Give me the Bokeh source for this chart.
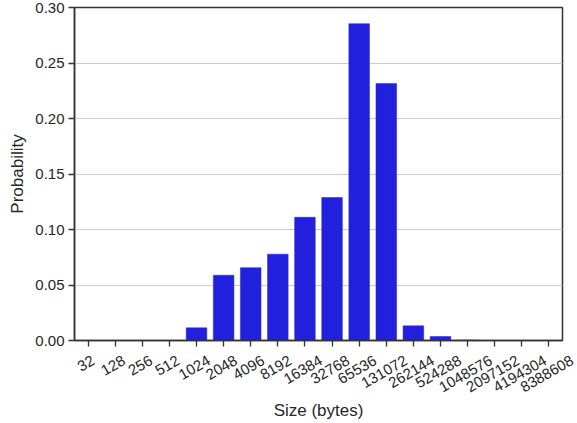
import math
from bokeh.plotting import figure
from bokeh.layouts import column
from bokeh.models import (ColumnDataSource, FixedTicker, NumeralTickFormatter,
                          FactorRange, Range1d, Plot)
from bokeh.core.properties import value
from bokeh.embed import file_html
from bokeh.resources import INLINE

sizes = ["32", "128", "256", "512", "1024", "2048", "4096", "8192", "16384",
         "32768", "65536", "131072", "262144", "524288", "1048576",
         "2097152", "4194304", "8388608"]
probability = [0.0, 0.0, 0.0, 0.0, 0.0114, 0.0588, 0.0656, 0.0778, 0.111,
               0.1288, 0.2854, 0.2316, 0.0132, 0.0036, 0.0003, 0.0, 0.0, 0.0]
y_ticks = [0.0, 0.05, 0.10, 0.15, 0.20, 0.25, 0.30]
x_title = "Size (bytes)"
y_title = "Probability"

FONT = "Liberation Sans"
TXT = "#262626"
LABEL_PX = 15
ANGLE = math.pi / 6

W, H = 577, 423
LEFT, RIGHT, TOP = 74, 15, 7
MAIN_H = 348          # main figure height (frame bottom at 340)
STRIP_H = H - MAIN_H  # strip holding the rotated tick labels + x title
FRAME_W = W - LEFT - RIGHT

# ---------------- main chart ----------------
src = ColumnDataSource(dict(size=sizes, prob=probability))

p = figure(width=W, height=MAIN_H, x_range=sizes, y_range=(0, 0.30),
           output_backend="svg", toolbar_location=None,
           min_border_left=LEFT, min_border_right=RIGHT, min_border_top=TOP,
           min_border_bottom=8)
p.x_range.range_padding = 0

p.vbar(x="size", top="prob", width=0.76, source=src,
       fill_color="#2121dd", line_color="#2121dd", line_width=0.5)

p.xgrid.grid_line_color = None
p.ygrid.grid_line_color = "#cccccc"
p.ygrid.grid_line_width = 1

p.outline_line_color = "#333333"
p.outline_line_width = 1.5

for ax in (p.xaxis[0], p.yaxis[0]):
    ax.axis_line_color = "#333333"
    ax.axis_line_width = 1.5
    ax.major_tick_line_color = "#333333"
    ax.major_tick_line_width = 1.3
    ax.major_tick_out = 6
    ax.major_tick_in = 0
    ax.minor_tick_line_color = None
    ax.major_label_text_font = FONT
    ax.major_label_text_font_size = f"{LABEL_PX}px"
    ax.major_label_text_color = TXT
    ax.axis_label_text_font = FONT
    ax.axis_label_text_font_size = "17px"
    ax.axis_label_text_font_style = "normal"
    ax.axis_label_text_color = TXT

p.yaxis.ticker = FixedTicker(ticks=y_ticks)
p.yaxis.formatter = NumeralTickFormatter(format="0.00")
p.yaxis.axis_label = y_title
p.yaxis.major_label_standoff = 4

# x axis keeps its ticks; its labels are drawn centred in the strip below
p.xaxis.major_label_text_color = None
p.xaxis.major_label_text_font_size = "1px"
p.xaxis.major_label_standoff = 0

# ---------------- label strip (same factor scale) ----------------
# if frames can be un-aligned, widen the strip's frame so edge labels aren't clipped
HAS_FRAME_ALIGN = "frame_align" in Plot.properties()
STRIP_PAD = 15 if HAS_FRAME_ALIGN else 0
pad_units = STRIP_PAD * len(sizes) / FRAME_W

p2 = figure(width=W, height=STRIP_H,
            x_range=FactorRange(*sizes, range_padding=pad_units,
                                range_padding_units="absolute"),
            y_range=Range1d(STRIP_H, 0),
            output_backend="svg", toolbar_location=None,
            min_border_left=LEFT - STRIP_PAD, min_border_right=RIGHT - STRIP_PAD,
            min_border_top=0, min_border_bottom=0)
if HAS_FRAME_ALIGN:
    p2.frame_align = False
p2.xaxis.visible = False
p2.yaxis.visible = False
p2.grid.grid_line_color = None
p2.outline_line_color = None

# centre of each rotated label below the frame (matplotlib ha="center")
def label_center(s):
    w = len(s) * 0.556 * LABEL_PX
    return (340 - MAIN_H) + 14 + (w * math.sin(ANGLE) + 11 * math.cos(ANGLE)) / 2

lab_src = ColumnDataSource(dict(size=sizes, ly=[label_center(s) for s in sizes]))
p2.text(x="size", y="ly", text="size", source=lab_src, angle=ANGLE,
        x_offset=-2, text_align="center", text_baseline="middle",
        text_font=value(FONT), text_font_size=value(f"{LABEL_PX}px"),
        text_color=TXT)

p2.text(x=[len(sizes) / 2], y=[410 - MAIN_H], text=[x_title],
        text_align="center", text_baseline="middle",
        text_font=value(FONT), text_font_size=value("17px"), text_color=TXT)

layout = column(p, p2, spacing=0)
open("out.html", "w").write(file_html(layout, INLINE))
